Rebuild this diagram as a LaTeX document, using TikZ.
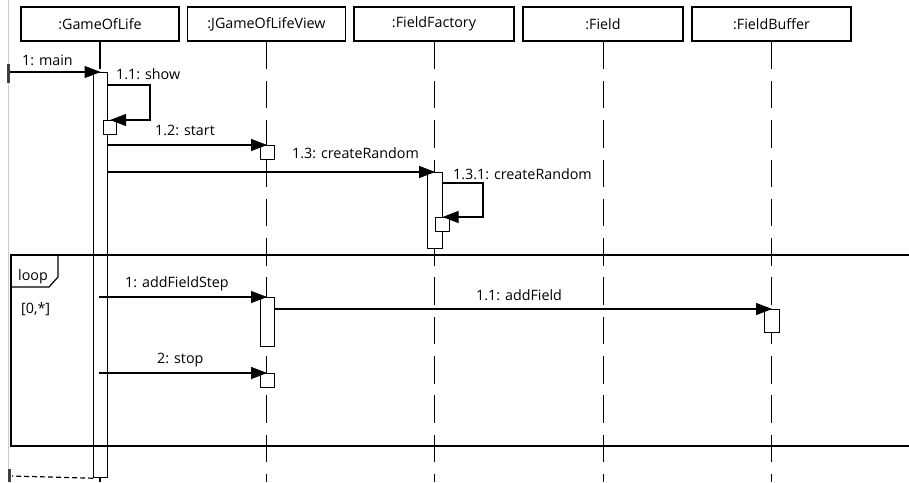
\documentclass[tikz,border=0pt]{standalone}
\usepackage{fontspec}
\setmainfont{Open Sans}
\usetikzlibrary{arrows.meta}
\begin{document}
\begin{tikzpicture}[x=1pt,y=-1pt,
  every node/.style={font=\fontsize{14.3}{17}\selectfont},
  head/.style={draw, line width=1.3pt, minimum width=158pt, minimum height=34pt, inner sep=0pt},
  lifeline/.style={line width=1.2pt, dash pattern=on 27.5pt off 11.8pt},
  act/.style={draw, fill=white, line width=1.2pt, inner sep=0pt, anchor=north west, minimum width=14pt},
  msg/.style={line width=1.2pt, -{Triangle[length=16pt,width=12pt]}},
  lbl/.style={anchor=base west, inner sep=0pt},
  frameline/.style={line width=1.2pt},
  ticks/.style={fill=black!75}
]
\useasboundingbox (0,0) rectangle (909,482);
\draw[gray!40, line width=1pt] (8,0) -- (8,482);
% headers
\node[head] (h1) at (100,24) {:GameOfLife};
\node[head] (h2) at (266.5,24) {:JGameOfLifeView};
\node[head, minimum width=160pt] (h3) at (434,24) {:FieldFactory};
\node[head, minimum width=160pt] (h4) at (603,24) {:Field};
\node[head, minimum width=159pt] (h5) at (771.5,24) {:FieldBuffer};
% lifeline ends
\coordinate (e1) at (100,482);
\coordinate (e2) at (266.5,482);
\coordinate (e3) at (434.5,482);
\coordinate (e4) at (603.3,482);
\coordinate (e5) at (771.5,482);
\draw[lifeline] (h1.south) -- (e1);
\draw[lifeline] (h2.south) -- (e2);
\draw[lifeline] ([xshift=0.5pt]h3.south) -- (e3);
\draw[lifeline] ([xshift=0.3pt]h4.south) -- (e4);
\draw[lifeline] (h5.south) -- (e5);
% activations
\node[act, minimum height=405pt] (a1) at (93,72) {};
\node[act, minimum width=13pt, minimum height=14pt] (s1) at (103,120) {};
\node[act, minimum height=14pt] (b2) at (259.5,145) {};
\node[act, minimum width=15pt, minimum height=76pt] (a3) at (427,172) {};
\node[act, minimum height=14pt] (s3) at (435,217) {};
\node[act, minimum height=49pt] (a2) at (259.5,297) {};
\node[act, minimum width=15pt, minimum height=23pt] (b5) at (764,309) {};
\node[act, minimum height=14pt] (c2) at (259.5,373) {};
% loop frame
\coordinate (ft) at (909,255);
\coordinate (fb) at (909,446);
\draw[frameline] (ft) -- (11,255) -- (11,446) -- (fb);
\draw[frameline] (11,255) -- (58,255) -- (58,277) -- (49,287) -- (11,287);
\node[lbl] (lloop) at (18,280) {loop};
\node[lbl] (lguard) at (21,313) {[0,*]};
% messages
\fill[ticks] (7,64) rectangle (10,83);
\coordinate (m0) at (10,72);
\draw[msg] (m0) -- (a1.north);
\coordinate (m11) at (107,85);
\draw[msg] (m11) -- (150,85) -- (150,120) -- (s1.north);
\draw[msg] (a1.east |- b2.north) -- (b2.north);
\draw[msg] (a1.east |- a3.north) -- (a3.north);
\coordinate (m131) at (442,183);
\draw[msg] (m131) -- (483,183) -- (483,217) -- (s3.north);
\coordinate (mafs) at (99,297);
\draw[msg] (mafs) -- (a2.north);
\draw[msg] (a2.east |- b5.north) -- (b5.north);
\coordinate (mstop) at (99,373);
\draw[msg] (mstop) -- (c2.north);
% return
\coordinate (ret) at (12,476);
\draw[line width=1.2pt, dash pattern=on 5pt off 3pt] (a1.south west) -- (ret);
\fill[ticks] (8,469) rectangle (11,482);
% labels
\node[lbl] (l1) at (22,65) {1: main};
\node[lbl] (l2) at (116,79) {1.1: show};
\node[lbl] (l3) at (155,135) {1.2: start};
\node[lbl] (l4) at (292,158) {1.3: createRandom};
\node[lbl] (l5) at (453,179) {1.3.1: createRandom};
\node[lbl] (l6) at (125,287) {1: addFieldStep};
\node[lbl] (l7) at (476,300) {1.1: addField};
\node[lbl] (l8) at (157,363) {2: stop};
\end{tikzpicture}
\end{document}
